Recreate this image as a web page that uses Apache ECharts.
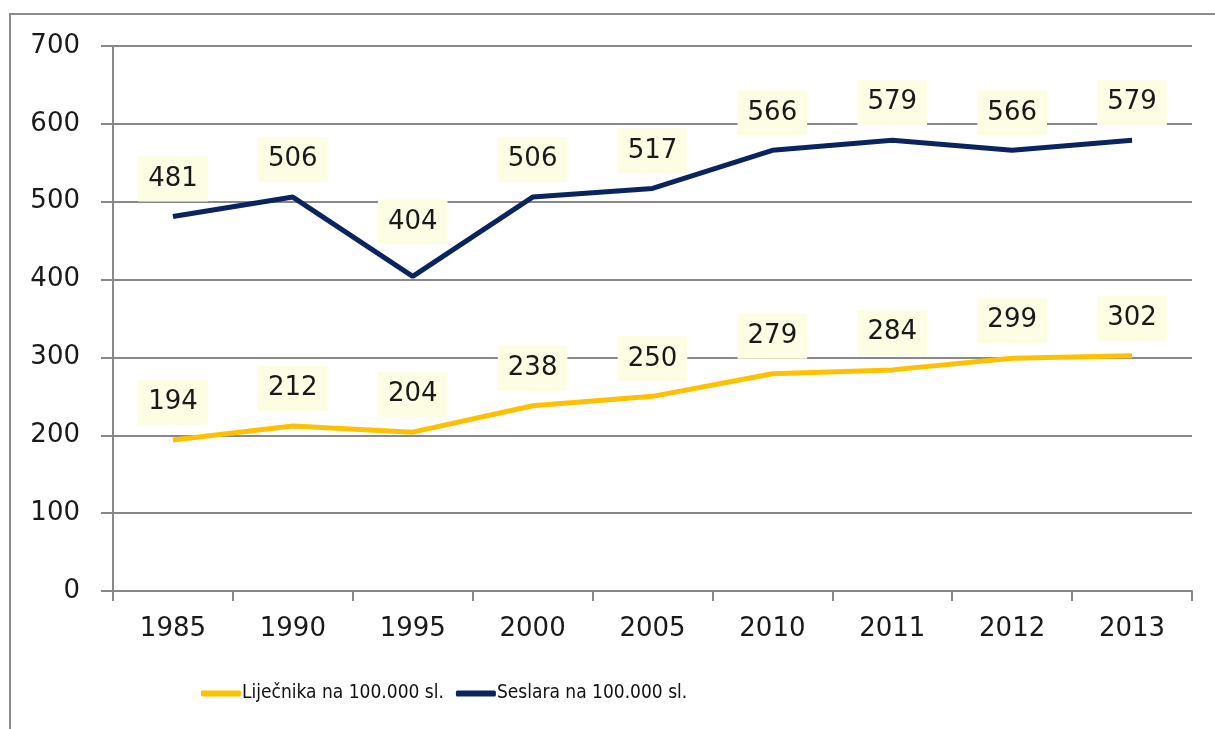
<!DOCTYPE html>
<html lang="hr">
<head>
  <meta charset="UTF-8" />
  <title>Liječnici i sestre na 100.000 stanovnika</title>
  <script src="https://cdn.jsdelivr.net/npm/echarts@6/dist/echarts.min.js"></script>
  <style>
    html, body { margin: 0; padding: 0; background: #fff; }
    #frame { position: absolute; left: 9px; top: 13px; width: 1300px; height: 800px; border: 2px solid #8c8c8c; }
    #main { position: absolute; left: 0; top: 0; width: 1215px; height: 729px; }
  </style>
</head>
<body>
  <div id="frame"></div>
  <div id="main"></div>
  <script type="text/javascript">
    // godine
    var years = ['1985', '1990', '1995', '2000', '2005', '2010', '2011', '2012', '2013']
    // liječnici na 100.000 stanovnika
    var doctors = [194, 212, 204, 238, 250, 279, 284, 299, 302]
    // sestre na 100.000 stanovnika
    var nurses = [481, 506, 404, 506, 517, 566, 579, 566, 579]

    var myChart = echarts.init(document.getElementById('main'))

    // oznake vrijednosti u žutim kućicama
    var labelStyle = {
      show: true,
      position: 'top',
      distance: 15,
      color: '#1a1a1a',
      fontFamily: 'DejaVu Sans',
      fontSize: 26,
      lineHeight: 27,
      backgroundColor: '#fcfde2',
      padding: [9, 10, 9, 10]
    }

    // oznaka za 1995. (sestre) stoji malo više, kao u izvorniku
    var nurseData = nurses.map(function (v, i) {
      return i === 2 ? { value: v, label: { distance: 32 } } : v
    })

    var option = {
      animation: false,
      grid: { left: 113, right: 23, top: 46, bottom: 138 },
      legend: {
        left: 196,
        top: 679,
        itemWidth: 40,
        itemHeight: 6,
        itemGap: 12,
        icon: 'roundRect',
        textStyle: { fontFamily: 'DejaVu Sans Condensed', fontSize: 19, color: '#111', padding: [0, 0, 0, -4] },
        data: ['Liječnika na 100.000 sl.', 'Seslara na 100.000 sl.']
      },
      xAxis: {
        type: 'category',
        data: years,
        boundaryGap: true,
        axisLine: { lineStyle: { color: '#888', width: 2 } },
        axisTick: { show: true, length: 10, lineStyle: { color: '#888', width: 2 } },
        axisLabel: { color: '#1a1a1a', fontFamily: 'DejaVu Sans', fontSize: 26, margin: 25 }
      },
      yAxis: {
        type: 'value',
        min: 0,
        max: 700,
        interval: 100,
        axisLine: { show: true, lineStyle: { color: '#888', width: 2 } },
        axisTick: { show: true, length: 12, lineStyle: { color: '#888', width: 2 } },
        splitLine: { lineStyle: { color: '#888', width: 2 } },
        axisLabel: { color: '#1a1a1a', fontFamily: 'DejaVu Sans', fontSize: 26, margin: 33 }
      },
      series: [{
        name: 'Liječnika na 100.000 sl.',
        type: 'line',
        data: doctors,
        symbol: 'circle',
        symbolSize: 0,
        lineStyle: { color: '#ffc000', width: 5 },
        itemStyle: { color: '#ffc000' },
        label: labelStyle
      }, {
        name: 'Seslara na 100.000 sl.',
        type: 'line',
        data: nurseData,
        symbol: 'circle',
        symbolSize: 0,
        lineStyle: { color: '#0b2461', width: 5 },
        itemStyle: { color: '#0b2461' },
        label: labelStyle
      }]
    }

    myChart.setOption(option)
  </script>
</body>
</html>
